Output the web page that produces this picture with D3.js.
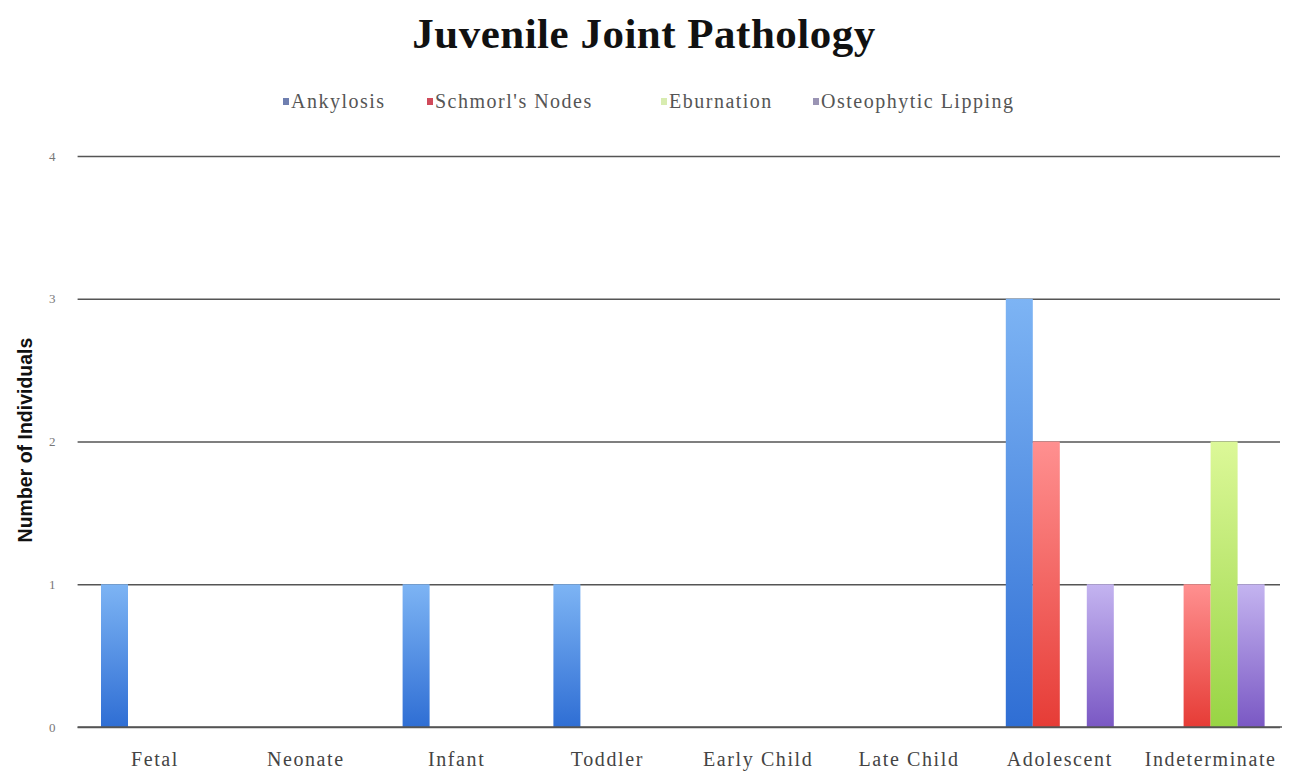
<!DOCTYPE html>
<html>
<head>
<meta charset="utf-8">
<script src="https://cdn.jsdelivr.net/npm/d3@7"></script>
<style>
  html, body { margin: 0; padding: 0; background: #ffffff; }
  svg { display: block; }
</style>
</head>
<body>
<svg id="chart" width="1306" height="780"></svg>
<script>
const categories = ["Fetal", "Neonate", "Infant", "Toddler", "Early Child", "Late Child", "Adolescent", "Indeterminate"];
const seriesNames = ["Ankylosis", "Schmorl's Nodes", "Eburnation", "Osteophytic Lipping"];
const ankylosis = [1, 0, 1, 1, 0, 0, 3, 0];
const schmorlsNodes = [0, 0, 0, 0, 0, 0, 2, 1];
const eburnation = [0, 0, 0, 0, 0, 0, 0, 2];
const osteophyticLipping = [0, 0, 0, 0, 0, 0, 1, 1];
const yTicks = [0, 1, 2, 3, 4];
const seriesValues = [ankylosis, schmorlsNodes, eburnation, osteophyticLipping];

const colorsTop = ["#7db4f4", "#ff9090", "#dcf898", "#c4b4f0"];
const colorsBottom = ["#2f6ed4", "#e63c36", "#98d444", "#7a58c4"];
const legendColors = ["#6f7fb0", "#d04a5a", "#d8ecb0", "#9a94b4"];

const svg = d3.select("#chart");
const margin = { left: 79.6, right: 1286, top: 156, bottom: 727 };
const serif = "'Liberation Serif', 'DejaVu Serif', serif";

const x0 = d3.scaleBand().domain(categories).range([margin.left, margin.right]).paddingInner(0).paddingOuter(0);
const x1 = d3.scaleBand().domain(d3.range(seriesNames.length)).range([21.4, x0.bandwidth() - 21.4]).padding(0);
const y = d3.scaleLinear().domain([0, 4]).range([margin.bottom, margin.top]);

// gradients
const defs = svg.append("defs");
seriesNames.forEach((s, i) => {
  const g = defs.append("linearGradient").attr("id", "grad" + i)
    .attr("x1", 0).attr("y1", 0).attr("x2", 0).attr("y2", 1);
  g.append("stop").attr("offset", "0%").attr("stop-color", colorsTop[i]);
  g.append("stop").attr("offset", "100%").attr("stop-color", colorsBottom[i]);
});

// title
svg.append("text")
  .attr("x", 644).attr("y", 48)
  .attr("text-anchor", "middle")
  .attr("font-family", serif)
  .attr("font-weight", "bold")
  .attr("font-size", 43)
  .attr("letter-spacing", 0.5)
  .attr("fill", "#111")
  .text("Juvenile Joint Pathology");

// legend
const legendX = [283, 427, 661, 813];
const legend = svg.append("g");
seriesNames.forEach((s, i) => {
  legend.append("rect")
    .attr("x", legendX[i]).attr("y", 98).attr("width", 6).attr("height", 7)
    .attr("fill", legendColors[i]);
  legend.append("text")
    .attr("x", legendX[i] + 8).attr("y", 108)
    .attr("font-family", serif)
    .attr("font-size", 20)
    .attr("letter-spacing", 1.5)
    .attr("fill", "#555")
    .text(s);
});

// gridlines
const yAxis = d3.axisLeft(y).tickValues(yTicks).tickSize(-(margin.right - 4 - margin.left)).tickPadding(22).tickFormat(d3.format("d"));
const gy = svg.append("g").attr("transform", `translate(${margin.left - 2},0)`).call(yAxis);
gy.select(".domain").remove();
gy.selectAll(".tick line").attr("stroke", "#555").attr("stroke-width", 1.4);
gy.selectAll(".tick text")
  .attr("font-family", serif)
  .attr("font-size", 13)
  .attr("fill", "#777");

// bars
const groups = svg.append("g").selectAll("g")
  .data(categories)
  .join("g")
  .attr("transform", d => `translate(${x0(d)},0)`);

groups.selectAll("rect")
  .data((c, ci) => seriesValues.map((vals, si) => ({ si, v: vals[ci] })).filter(d => d.v > 0))
  .join("rect")
  .attr("x", d => x1(d.si))
  .attr("width", x1.bandwidth())
  .attr("y", d => y(d.v))
  .attr("height", d => y(0) - y(d.v))
  .attr("fill", d => `url(#grad${d.si})`);

// baseline on top
svg.append("line")
  .attr("x1", margin.left - 2).attr("x2", margin.right - 4)
  .attr("y1", y(0)).attr("y2", y(0))
  .attr("stroke", "#555").attr("stroke-width", 1.4);

// x axis labels
const xAxis = d3.axisBottom(x0).tickSize(0).tickPadding(25);
const gx = svg.append("g").attr("transform", `translate(0,${y(0)})`).call(xAxis);
gx.select(".domain").remove();
gx.selectAll(".tick text")
  .attr("font-family", serif)
  .attr("font-size", 20)
  .attr("letter-spacing", 1.6)
  .attr("fill", "#444");

// y axis title
svg.append("text")
  .attr("transform", "translate(32,440) rotate(-90)")
  .attr("text-anchor", "middle")
  .attr("font-family", "'Liberation Sans', Arial, sans-serif")
  .attr("font-weight", "bold")
  .attr("font-size", 19.5)
  .attr("fill", "#111")
  .text("Number of Individuals");
</script>
</body>
</html>
